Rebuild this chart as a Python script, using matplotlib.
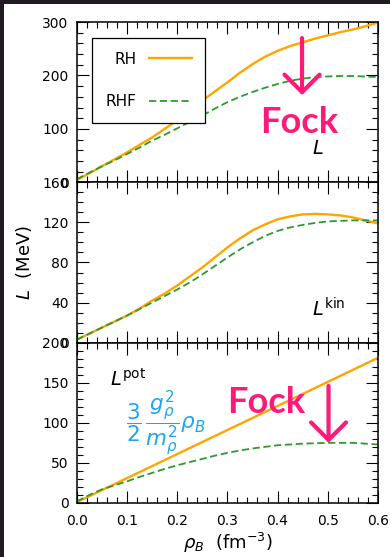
import matplotlib
matplotlib.use("Agg")
import matplotlib.pyplot as plt
from matplotlib.patches import Rectangle
from matplotlib.ticker import MultipleLocator, FormatStrFormatter

# density (fm^-3)
rho = [0.0, 0.025, 0.05, 0.075, 0.1, 0.125, 0.15, 0.175, 0.2, 0.225, 0.25, 0.275, 0.3,
       0.325, 0.35, 0.375, 0.4, 0.425, 0.45, 0.475, 0.5, 0.525, 0.55, 0.575, 0.6]

# total slope L (MeV)
L_rh = [4, 17, 30, 43, 56, 70, 84, 100, 116, 134, 153, 170, 187,
        205, 221, 235, 246, 255, 262, 269, 275, 281, 286, 292, 299]
L_rhf = [6, 18, 30, 41, 53, 65, 78, 89, 101, 113, 125, 138, 150,
         160, 169, 177, 184, 190, 194, 197, 198, 199, 199, 198, 197]

# kinetic part
Lkin_rh = [3, 9, 15, 21, 27, 34, 42, 49, 57, 66, 75, 85, 95,
           104, 112, 118, 123, 126, 128, 128.5, 128, 127, 125, 122, 119]
Lkin_rhf = [3, 9, 15, 21, 27, 33.5, 40, 46.5, 53, 60, 68, 76.5, 85,
            93, 100, 106.5, 111.5, 115, 117.5, 119.5, 121, 121.5, 122, 122, 122]

# potential part
Lpot_rh = [1, 8.5, 16, 23.5, 31, 38.5, 46, 53.5, 61, 68.5, 76, 83.5, 91,
           98.5, 106, 113.5, 121, 128.5, 136, 143.5, 151, 158.5, 166, 173.5, 181]
Lpot_rhf = [2, 10, 17, 22, 27, 32.5, 37.5, 42.5, 47, 51, 55, 59, 62.5,
            65.5, 68, 70, 72, 73, 74, 74.5, 75, 75, 75, 74, 73]

orange = "#ffa500"
green = "#2e9a2e"
pink = "#ff1a78"
blue = "#1ea5f0"

fig = plt.figure(figsize=(3.9, 5.57), dpi=100)
fig.patch.set_facecolor("#221a22")
fig.patches.append(Rectangle((4 / 390, 0), 1, 1 - 4 / 557, transform=fig.transFigure,
                             facecolor="white", edgecolor="none", zorder=-1))

gs = fig.add_gridspec(3, 1, hspace=0, left=0.197, right=0.969, top=0.9605, bottom=0.097)
ax1 = fig.add_subplot(gs[0])
ax2 = fig.add_subplot(gs[1], sharex=ax1)
ax3 = fig.add_subplot(gs[2], sharex=ax1)

dash = (0, (4, 2))
ax1.plot(rho, L_rh, color=orange, lw=1.7, label="RH")
ax1.plot(rho, L_rhf, color=green, lw=1.3, ls=dash, label="RHF")
ax2.plot(rho, Lkin_rh, color=orange, lw=1.7)
ax2.plot(rho, Lkin_rhf, color=green, lw=1.3, ls=dash)
ax3.plot(rho, Lpot_rh, color=orange, lw=1.7)
ax3.plot(rho, Lpot_rhf, color=green, lw=1.3, ls=dash)

ax1.set_ylim(0, 300)
ax2.set_ylim(0, 160)
ax3.set_ylim(0, 200)
ax1.set_xlim(0, 0.6)

ax1.yaxis.set_major_locator(MultipleLocator(100))
ax1.yaxis.set_minor_locator(MultipleLocator(20))
ax2.yaxis.set_major_locator(MultipleLocator(40))
ax2.yaxis.set_minor_locator(MultipleLocator(10))
ax3.yaxis.set_major_locator(MultipleLocator(50))
ax3.yaxis.set_minor_locator(MultipleLocator(10))

for ax in (ax1, ax2, ax3):
    ax.xaxis.set_major_locator(MultipleLocator(0.1))
    ax.xaxis.set_minor_locator(MultipleLocator(0.02))
    ax.tick_params(which="both", direction="in", top=True, right=True, width=0.8)
    ax.tick_params(which="major", length=8.5, labelsize=10, pad=6)
    ax.tick_params(which="minor", length=4.5)
    for s in ax.spines.values():
        s.set_linewidth(1.1)

ax1.tick_params(labelbottom=False)
ax2.tick_params(labelbottom=False)
ax3.tick_params(axis="x", pad=8)

ax3.xaxis.set_major_formatter(FormatStrFormatter("%.1f"))
ax3.set_xlabel(r"$\rho_B$  (fm$^{-3}$)", fontsize=13, labelpad=2)
ax2.set_ylabel(r"$L$  (MeV)", fontsize=13, labelpad=6)

leg = ax1.legend(loc="upper left", bbox_to_anchor=(0.05, 0.9), borderaxespad=0,
                 markerfirst=False, fontsize=11, handlelength=2.8, labelspacing=1.8,
                 borderpad=0.9, fancybox=False, edgecolor="black", framealpha=1)
leg.get_frame().set_linewidth(0.9)

arrow = dict(arrowstyle="->,head_length=0.9,head_width=0.9", color=pink,
             lw=3, mutation_scale=14, shrinkA=0, shrinkB=0)

# top panel
ax1.text(0.74, 0.375, "Fock", transform=ax1.transAxes, fontsize=26, color=pink,
         family="Lato", weight="bold", ha="center", va="center")
ax1.annotate("", xy=(0.748, 0.544), xytext=(0.748, 0.9), xycoords="axes fraction",
             arrowprops=arrow)
ax1.text(0.80, 0.21, r"$L$", transform=ax1.transAxes, fontsize=14, ha="center", va="center")

# middle panel
ax2.text(0.78, 0.21, r"$L^{\rm kin}$", transform=ax2.transAxes, fontsize=14, ha="left", va="center")

# bottom panel
ax3.text(0.11, 0.775, r"$L^{\rm pot}$", transform=ax3.transAxes, fontsize=14, ha="left", va="center")
ax3.text(0.163, 0.5, r"$\dfrac{3}{2}\,\dfrac{g_\rho^2}{m_\rho^2}\rho_B$", transform=ax3.transAxes,
         fontsize=15.5, color=blue, ha="left", va="center")
ax3.text(0.63, 0.625, "Fock", transform=ax3.transAxes, fontsize=26, color=pink,
         family="Lato", weight="bold", ha="center", va="center")
ax3.annotate("", xy=(0.836, 0.375), xytext=(0.836, 0.73), xycoords="axes fraction",
             arrowprops=arrow)

fig.savefig("out.png", dpi=100, facecolor=fig.get_facecolor())
